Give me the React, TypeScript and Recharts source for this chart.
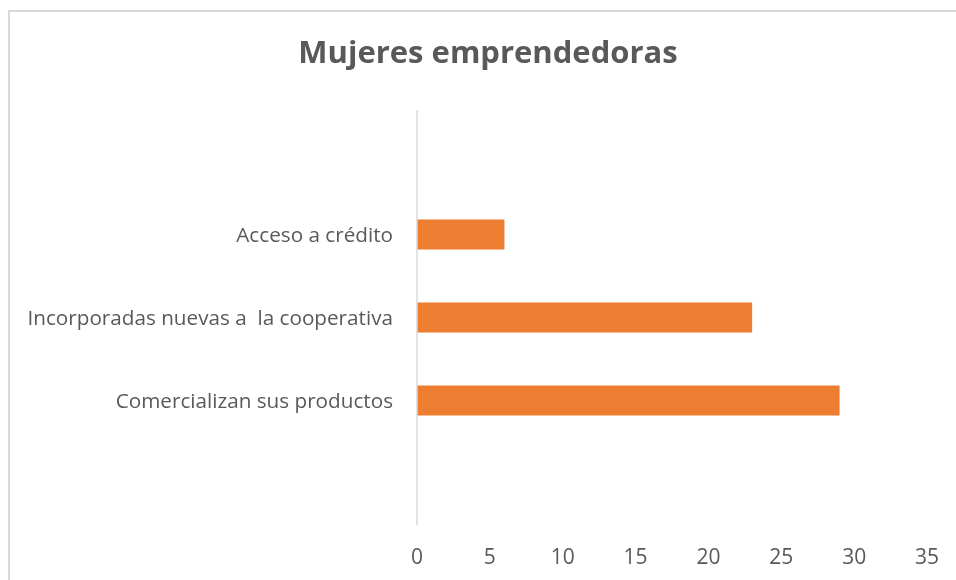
import React from "react";
import { BarChart, Bar, XAxis, YAxis } from "recharts";

const categories = ["", "Acceso a crédito", "Incorporadas nuevas a  la cooperativa", "Comercializan sus productos", " "];
const values = [null, 6, 23, 29, null];
const xTicks = [0, 5, 10, 15, 20, 25, 30, 35];
const title = "Mujeres emprendedoras";

const data = categories.map((name, i) => ({ name, value: values[i] }));

const FONT = "'Open Sans', Lato, sans-serif";
const TEXT = "#595959";

function CategoryTick(props: any) {
  const { x, y, payload } = props;
  return (
    <text
      x={x}
      y={y}
      dy="0.355em"
      textAnchor="end"
      fill={TEXT}
      style={{ fontFamily: FONT, fontSize: 20.7, whiteSpace: "pre" }}
    >
      {payload.value}
    </text>
  );
}

export default function App() {
  return (
    <div style={{ position: "relative", width: 940, height: 564 }}>
      <div
        style={{
          position: "fixed",
          left: 8,
          top: 10,
          width: 2000,
          height: 2000,
          borderLeft: "2px solid #d9d9d9",
          borderTop: "2px solid #d9d9d9",
        }}
      />
      <div style={{ position: "absolute", left: 0, top: 0 }}>
        <BarChart
          width={940}
          height={564}
          data={data}
          layout="vertical"
          margin={{ top: 102, right: 21, bottom: 7, left: 0 }}
          barCategoryGap="32%"
        >
          <text
            x={480}
            y={55}
            textAnchor="middle"
            fill={TEXT}
            style={{ fontFamily: FONT, fontSize: 31, fontWeight: 700 }}
          >
            {title}
          </text>
          <XAxis
            type="number"
            domain={[0, 35]}
            ticks={xTicks}
            axisLine={false}
            tickLine={false}
            tickMargin={18}
            height={40}
            tick={{ fill: TEXT, fontSize: 21, fontFamily: FONT }}
          />
          <YAxis
            type="category"
            dataKey="name"
            width={409}
            axisLine={{ stroke: "#d9d9d9", strokeWidth: 1.5 }}
            tickLine={false}
            tickMargin={18}
            interval={0}
            tick={<CategoryTick />}
          />
          <Bar dataKey="value" fill="#ED7D31" isAnimationActive={false} />
        </BarChart>
      </div>
    </div>
  );
}
